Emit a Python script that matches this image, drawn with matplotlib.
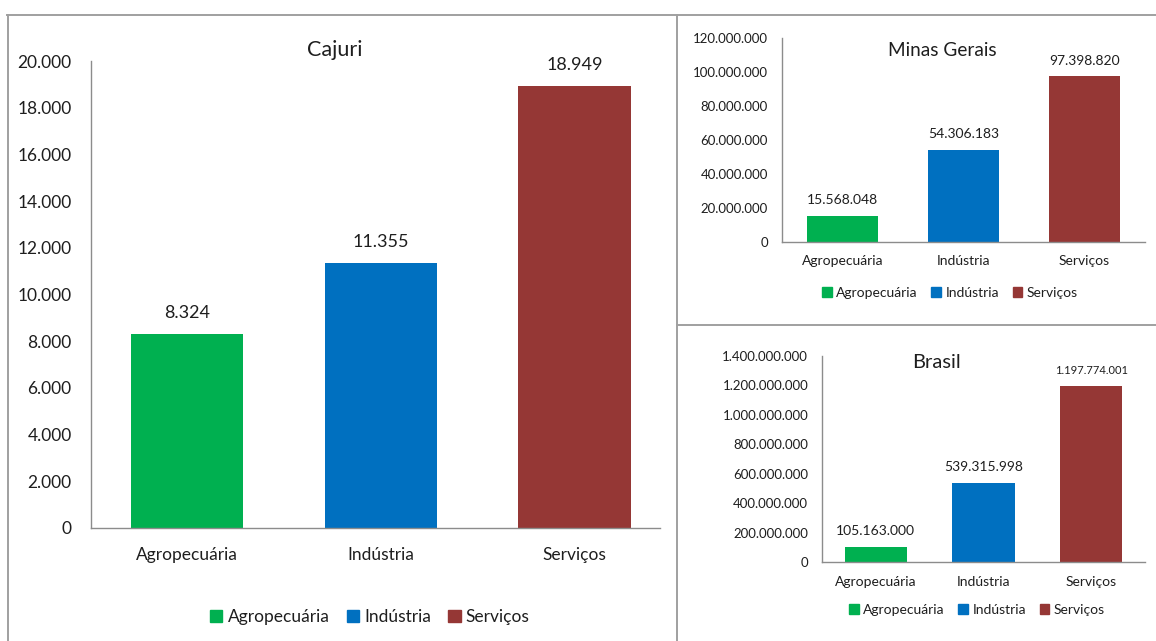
import matplotlib as mpl
mpl.use('Agg')
import matplotlib.pyplot as plt
from matplotlib.patches import Patch
from matplotlib.lines import Line2D

plt.rcParams['font.family'] = ['Lato', 'DejaVu Sans']
plt.rcParams['text.color'] = '#1e1e1e'

setores = ['Agropecuária', 'Indústria', 'Serviços']
cores = ['#00B050', '#0070C0', '#953735']

cajuri = [8324, 11355, 18949]
minas = [15568048, 54306183, 97398820]
brasil = [105163000, 539315998, 1197774001]

W, H = 1156, 641
fig = plt.figure(figsize=(W / 100, H / 100), dpi=100)


def fmt(v):
    return f'{v:,.0f}'.replace(',', '.')


def px_axes(x0, x1, ytop, ybot):
    return fig.add_axes([x0 / W, (H - ybot) / H, (x1 - x0) / W, (ybot - ytop) / H])


def painel(ax, valores, ymax, passo, xlim, fs_tick, fs_cat, fs_val, pad_y, pad_x, off, fs_vals=None):
    ax.bar(range(3), valores, width=0.58, color=cores)
    ax.set_xlim(xlim)
    ax.set_ylim(0, ymax)
    ax.set_yticks(range(0, ymax + 1, passo))
    ax.set_yticklabels([fmt(t) for t in range(0, ymax + 1, passo)], fontsize=fs_tick)
    ax.set_xticks(range(3))
    ax.set_xticklabels(setores, fontsize=fs_cat)
    ax.tick_params(axis='y', length=0, pad=pad_y, colors='#1e1e1e')
    ax.tick_params(axis='x', length=0, pad=pad_x, colors='#1e1e1e')
    for s in ['top', 'right']:
        ax.spines[s].set_visible(False)
    for s in ['left', 'bottom']:
        ax.spines[s].set_color('#8c8c8c')
        ax.spines[s].set_linewidth(1.0)
    for i, v in enumerate(valores):
        f = fs_val if fs_vals is None else fs_vals[i]
        ax.annotate(fmt(v), (i, v), xytext=(0, off), textcoords='offset points',
                    ha='center', va='bottom', fontsize=f)


# Cajuri
ax1 = px_axes(91, 660, 61, 528)
painel(ax1, cajuri, 20000, 2000, (-0.495, 2.44), 12.5, 12.5, 13, 14, 14, 9)
fig.text(335 / W, 1 - 50 / H, 'Cajuri', ha='center', va='center', fontsize=15.5)

# Minas Gerais
ax2 = px_axes(782, 1145, 38, 242)
painel(ax2, minas, 120000000, 20000000, (-0.5, 2.5), 9.5, 10, 10, 10, 9, 7)
fig.text(942 / W, 1 - 50 / H, 'Minas Gerais', ha='center', va='center', fontsize=13.7)

# Brasil
ax3 = px_axes(822, 1145, 356, 562)
painel(ax3, brasil, 1400000000, 200000000, (-0.5, 2.5), 9.5, 10, 10, 10, 10, 7,
       fs_vals=[10, 10, 8])
fig.text(937 / W, 1 - 362 / H, 'Brasil', ha='center', va='center', fontsize=14.5)

# legendas
handles = [Patch(color=c, label=s) for c, s in zip(cores, setores)]
leg_kw = dict(loc='center', ncol=3, frameon=False, handlelength=0.7, handleheight=0.7,
              handletextpad=0.3, columnspacing=1.0, borderaxespad=0)
fig.legend(handles=handles, bbox_to_anchor=(370 / W, 1 - 617 / H), fontsize=12.5, **leg_kw)
fig.legend(handles=handles, bbox_to_anchor=(950 / W, 1 - 293 / H), fontsize=10, **leg_kw)
fig.legend(handles=handles, bbox_to_anchor=(977 / W, 1 - 610 / H), fontsize=10, **leg_kw)

# bordas dos paineis
borda = dict(color='#a0a0a0', lw=1.4, transform=fig.transFigure)
fig.add_artist(Line2D([7 / W, 1], [1 - 14.5 / H, 1 - 14.5 / H], **borda))
fig.add_artist(Line2D([7.5 / W, 7.5 / W], [0, 1 - 14.5 / H], **borda))
fig.add_artist(Line2D([677 / W, 677 / W], [0, 1 - 14.5 / H], **borda))
fig.add_artist(Line2D([677 / W, 1], [1 - 325 / H, 1 - 325 / H], **borda))

plt.savefig('out.png', dpi=100)
